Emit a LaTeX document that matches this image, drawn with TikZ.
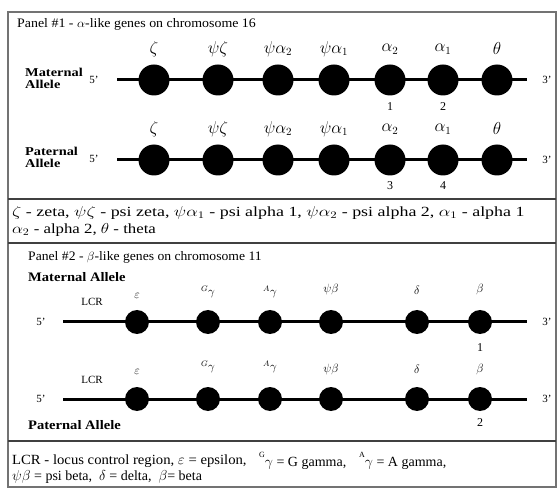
\documentclass[tikz,border=0pt]{standalone}
\usepackage{fontspec}
\setmainfont{Liberation Serif}
\newcommand\hsc[2]{\scalebox{#1}[1]{#2}}
\begin{document}
\begin{tikzpicture}[x=1pt,y=-1pt,
  frame/.style={draw=black!55,line width=2.2pt},
  divider/.style={draw=black!75,line width=1.8pt},
  chrom/.style={line width=3pt},
  genea/.style={circle,fill=black,minimum size=31pt,inner sep=0pt},
  geneb/.style={circle,fill=black,minimum size=24pt,inner sep=0pt},
  txt/.style={anchor=west,inner sep=0pt,font=\fontsize{13}{15}\selectfont},
  leg/.style={anchor=west,inner sep=0pt,font=\fontsize{14}{15}\selectfont},
  allele/.style={anchor=west,inner sep=0pt,align=left,font=\fontsize{12}{12}\selectfont\bfseries},
  small/.style={inner sep=0pt,font=\fontsize{11}{12}\selectfont},
  glab/.style={inner sep=0pt,font=\fontsize{16}{16}\selectfont},
  glabb/.style={inner sep=0pt,font=\fontsize{12}{12}\selectfont},
  num/.style={inner sep=0pt,font=\fontsize{12}{12}\selectfont}]
\useasboundingbox (0,0) rectangle (560,489);
\draw[frame] (8,12) rectangle (556,487);
\draw[divider] (8,199) -- (556,199);
\draw[divider] (8,243) -- (556,243);
\draw[divider] (8,441) -- (556,441);

% Panel 1
\node[txt] (t1) at (17,24) {\hsc{1.07}{Panel \#1 - $\alpha$-like genes on chromosome 16}};
\node[allele] (ma) at (25,78) {\hsc{1.2}{Maternal}\\\hsc{1.2}{Allele}};
\node[small] (ma5) at (94,80) {5'};
\coordinate (ma5e) at (117,80);
\coordinate (ma3e) at (527,80);
\node[small] (ma3) at (547,80) {3'};
\draw[chrom] (ma5e) -- (ma3e);
\foreach \i/\x/\l in {1/154/\zeta,2/218/\psi\zeta,3/278/\psi\alpha_2,4/334/\psi\alpha_1,5/390/\alpha_2,6/443/\alpha_1,7/497/\theta}{
  \node[genea] (m\i) at (\x,80) {};
  \node[glab] (ml\i) at (\x,49) {$\l$};
}
\node[num] (n1) at (390,107) {1};
\node[num] (n2) at (443,107) {2};

\node[allele] (pa) at (25,157) {\hsc{1.2}{Paternal}\\\hsc{1.2}{Allele}};
\node[small] (pa5) at (94,159) {5'};
\coordinate (pa5e) at (117,160);
\coordinate (pa3e) at (527,160);
\node[small] (pa3) at (547,160) {3'};
\draw[chrom] (pa5e) -- (pa3e);
\foreach \i/\x/\l in {1/154/\zeta,2/218/\psi\zeta,3/278/\psi\alpha_2,4/334/\psi\alpha_1,5/390/\alpha_2,6/443/\alpha_1,7/497/\theta}{
  \node[genea] (p\i) at (\x,160) {};
  \node[glab] (pl\i) at (\x,129) {$\l$};
}
\node[num] (n3) at (390,186) {3};
\node[num] (n4) at (443,186) {4};

% Legend 1
\node[leg] (l1a) at (12,213) {\hsc{1.28}{$\zeta$ - zeta, $\psi\zeta$ - psi zeta, $\psi\alpha_1$ - psi alpha 1, $\psi\alpha_2$ - psi alpha 2, $\alpha_1$ - alpha 1}};
\node[leg] (l1b) at (12,230) {\hsc{1.2}{$\alpha_2$ - alpha 2, $\theta$ - theta}};

% Panel 2
\node[txt] (t2) at (28,257) {\hsc{1.05}{Panel \#2 - $\beta$-like genes on chromosome 11}};
\node[allele,font=\fontsize{13}{13}\selectfont\bfseries] (mb) at (28,277) {\hsc{1.12}{Maternal Allele}};
\node[small] (lcr1) at (92,302) {LCR};
\node[small] (mb5) at (41,322) {5'};
\coordinate (mb5e) at (63,322);
\coordinate (mb3e) at (527,322);
\node[small] (mb3) at (547,322) {3'};
\draw[chrom] (mb5e) -- (mb3e);
\foreach \i/\x/\l/\yy in {1/137/\varepsilon/296,2/208/{}^{G}\gamma/292,3/270/{}^{A}\gamma/292,4/331/\psi\beta/290,5/417/\delta/290,6/480/\beta/290}{
  \node[geneb] (mg\i) at (\x,322) {};
  \node[glabb] (mgl\i) at (\x,\yy) {$\l$};
}
\node[num] (n5) at (480,348) {1};

\node[small] (lcr2) at (92,380) {LCR};
\node[small] (pb5) at (41,399) {5'};
\coordinate (pb5e) at (63,399);
\coordinate (pb3e) at (527,399);
\node[small] (pb3) at (547,399) {3'};
\draw[chrom] (pb5e) -- (pb3e);
\foreach \i/\x/\l/\yy in {1/137/\varepsilon/372,2/208/{}^{G}\gamma/367,3/270/{}^{A}\gamma/367,4/331/\psi\beta/369,5/417/\delta/369,6/480/\beta/369}{
  \node[geneb] (pg\i) at (\x,399) {};
  \node[glabb] (pgl\i) at (\x,\yy) {$\l$};
}
\node[num] (n6) at (480,423) {2};
\node[allele,font=\fontsize{13}{13}\selectfont\bfseries] (pb) at (28,425) {\hsc{1.12}{Paternal Allele}};

% Legend 2
\node[leg] (l2a) at (12,461) {\hsc{1.05}{LCR - locus control region, $\varepsilon$ = epsilon,}};
\node[leg] (l2b) at (259,461) {\raisebox{1.3ex}{\footnotesize G}$\gamma$ = G gamma,};
\node[leg] (l2c) at (359,461) {\raisebox{1.3ex}{\footnotesize A}$\gamma$ = A gamma,};
\node[leg] (l2d) at (12,477) {$\psi\beta$ = psi beta, \ $\delta$ = delta, \ $\beta$= beta};
\end{tikzpicture}
\end{document}
